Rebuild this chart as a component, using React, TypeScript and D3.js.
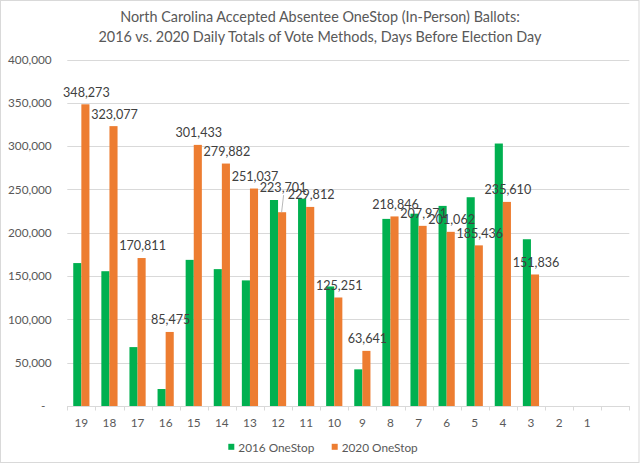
import * as d3 from 'd3';
import React, { useEffect } from 'react';

const titleLines = [
  'North Carolina Accepted Absentee OneStop (In-Person) Ballots:',
  '2016 vs. 2020 Daily Totals of Vote Methods, Days Before Election Day',
];

// days before election day (last slot is an empty category)
const days = ['19', '18', '17', '16', '15', '14', '13', '12', '11', '10', '9', '8', '7', '6', '5', '4', '3', '2', '1', ''];

const onestop2016: (number | null)[] = [
  165000, 155600, 68000, 19600, 168700, 158000, 145000, 237800, 239400, 138000,
  42300, 216000, 222000, 231000, 241000, 303000, 192500, null, null, null,
];

const onestop2020: (number | null)[] = [
  348273, 323077, 170811, 85475, 301433, 279882, 251037, 223701, 229812, 125251,
  63641, 218846, 207971, 201062, 185436, 235610, 151836, null, null, null,
];

const yTicks = [0, 50000, 100000, 150000, 200000, 250000, 300000, 350000, 400000];

const seriesNames = ['2016 OneStop', '2020 OneStop'];
const colors = ['#00B050', '#ED7D31'];

// labels Excel moved up and tied with a leader line
const liftedLabels: Record<string, number> = { '12': 12.5 };

export default function App() {
  const ref = React.useRef<HTMLDivElement>(null);

  useEffect(() => {
    if (!ref.current) return;
    ref.current.innerHTML = '';

    const width = 640;
    const height = 464;
    const plot = { left: 67.3, right: 629.3, top: 59.5, bottom: 406 };
    const font = 'Lato, Calibri, Carlito, sans-serif';

    const svg = d3
      .select(ref.current)
      .append('svg')
      .attr('width', width)
      .attr('height', height)
      .style('position', 'absolute')
      .style('left', 0)
      .style('top', 0)
      .style('font-family', font);

    svg
      .append('rect')
      .attr('x', 0.5)
      .attr('y', 0.5)
      .attr('width', 638.5)
      .attr('height', 462)
      .attr('fill', '#fff')
      .attr('stroke', '#d9d9d9');

    // Title
    svg
      .append('g')
      .selectAll('text')
      .data(titleLines)
      .enter()
      .append('text')
      .attr('x', 320)
      .attr('y', (d, i) => 21.5 + i * 20.6)
      .attr('text-anchor', 'middle')
      .attr('font-size', 14.4)
      .attr('fill', '#595959')
      .text(d => d);

    const x = d3.scaleBand().domain(days).range([plot.left, plot.right]).padding(0);
    const y = d3.scaleLinear().domain([0, 400000]).range([plot.bottom, plot.top]);
    const step = x.step();
    const barW = 8.1;

    // Gridlines
    svg
      .append('g')
      .selectAll('line')
      .data(yTicks.filter(t => t > 0))
      .enter()
      .append('line')
      .attr('x1', plot.left)
      .attr('x2', plot.right)
      .attr('y1', d => Math.round(y(d)) + 0.5)
      .attr('y2', d => Math.round(y(d)) + 0.5)
      .attr('stroke', '#d9d9d9')
      .attr('stroke-width', 1);

    // Y labels
    const fmt = d3.format(',');
    svg
      .append('g')
      .selectAll('text')
      .data(yTicks)
      .enter()
      .append('text')
      .attr('x', d => (d === 0 ? 45.5 : 51.7))
      .attr('y', d => y(d) + 4.2)
      .attr('text-anchor', 'end')
      .attr('font-size', 11.8)
      .attr('fill', '#595959')
      .text(d => (d === 0 ? '-' : fmt(d)));

    // Bars
    const seriesData = [onestop2016, onestop2020];
    seriesData.forEach((values, s) => {
      svg
        .append('g')
        .selectAll('rect')
        .data(values.map((v, i) => ({ day: days[i], v })).filter(d => d.v != null))
        .enter()
        .append('rect')
        .attr('x', d => (x(d.day) as number) + step / 2 + (s === 0 ? -barW : 0))
        .attr('width', barW)
        .attr('y', d => y(d.v as number))
        .attr('height', d => plot.bottom - y(d.v as number))
        .attr('fill', colors[s]);
    });

    // X axis
    svg
      .append('line')
      .attr('x1', plot.left)
      .attr('x2', plot.right)
      .attr('y1', plot.bottom + 0.5)
      .attr('y2', plot.bottom + 0.5)
      .attr('stroke', '#d9d9d9');
    svg
      .append('g')
      .selectAll('line')
      .data(d3.range(days.length + 1))
      .enter()
      .append('line')
      .attr('x1', i => Math.round(plot.left + i * step) + 0.5)
      .attr('x2', i => Math.round(plot.left + i * step) + 0.5)
      .attr('y1', plot.bottom)
      .attr('y2', plot.bottom + 4.5)
      .attr('stroke', '#d9d9d9');
    svg
      .append('g')
      .selectAll('text')
      .data(days)
      .enter()
      .append('text')
      .attr('x', d => (x(d) as number) + step / 2)
      .attr('y', 426.5)
      .attr('text-anchor', 'middle')
      .attr('font-size', 11.8)
      .attr('fill', '#595959')
      .text(d => d);

    // 2020 data labels
    const labels = onestop2020
      .map((v, i) => ({ day: days[i], v }))
      .filter(d => d.v != null);
    const lg = svg.append('g');
    labels.forEach(d => {
      const cx = (x(d.day) as number) + step / 2 + barW / 2;
      const top = y(d.v as number);
      const lift = liftedLabels[d.day] ?? 0;
      const ly = top - 7.6 - lift;
      if (lift) {
        lg.append('line')
          .attr('x1', cx - 0.5)
          .attr('y1', top)
          .attr('x2', cx + 1.5)
          .attr('y2', ly + 3)
          .attr('stroke', '#a6a6a6')
          .attr('stroke-width', 0.8);
      }
      lg.append('text')
        .attr('x', cx + 1)
        .attr('y', ly)
        .attr('text-anchor', 'middle')
        .attr('font-size', 12.6)
        .attr('fill', '#404040')
        .text(fmt(d.v as number));
    });

    // Legend
    const legendX = [228.3, 331.7];
    const legend = svg.append('g');
    seriesNames.forEach((name, i) => {
      legend
        .append('rect')
        .attr('x', legendX[i])
        .attr('y', 443.8)
        .attr('width', 6)
        .attr('height', 6)
        .attr('fill', colors[i]);
      legend
        .append('text')
        .attr('x', legendX[i] + 10)
        .attr('y', 451.5)
        .attr('font-size', 11.8)
        .attr('fill', '#595959')
        .text(name);
    });
  }, []);

  return <div ref={ref}></div>;
}
